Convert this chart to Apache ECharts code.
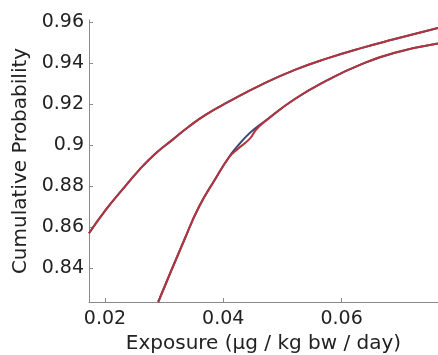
<!DOCTYPE html>
<html>
<head>
<meta charset="utf-8">
<script src="https://cdn.jsdelivr.net/npm/echarts@6/dist/echarts.min.js"></script>
<style>html,body{margin:0;padding:0;background:#fff}#c{width:438px;height:355px}</style>
</head>
<body>
<div id="c"></div>
<script>
const upperX = [0.0173, 0.0201, 0.0229, 0.0258, 0.0286, 0.0314, 0.0342, 0.0370, 0.0410, 0.0464, 0.0521, 0.0577, 0.0633, 0.0690, 0.0763];
const upperBlueY = [0.8571, 0.8684, 0.8782, 0.8880, 0.8961, 0.9026, 0.9091, 0.9148, 0.9213, 0.9294, 0.9367, 0.9424, 0.9473, 0.9517, 0.9571];
const upperRedY = [0.8571, 0.8684, 0.8782, 0.8880, 0.8961, 0.9026, 0.9091, 0.9148, 0.9213, 0.9294, 0.9367, 0.9424, 0.9473, 0.9517, 0.9571];

const lowerBlueX = [0.0290, 0.0334, 0.0359, 0.0387, 0.0410, 0.0423, 0.0445, 0.0470, 0.0521, 0.0577, 0.0633, 0.0690, 0.0763];
const lowerBlueY = [0.8236, 0.8538, 0.8700, 0.8838, 0.8944, 0.8992, 0.9060, 0.9117, 0.9225, 0.9318, 0.9394, 0.9450, 0.9495];
const lowerRedX = [0.0290, 0.0334, 0.0359, 0.0387, 0.0410, 0.0423, 0.0445, 0.0455, 0.0470, 0.0521, 0.0577, 0.0633, 0.0690, 0.0763];
const lowerRedY = [0.8236, 0.8538, 0.8700, 0.8838, 0.8942, 0.8978, 0.9032, 0.9074, 0.9114, 0.9225, 0.9318, 0.9394, 0.9450, 0.9495];

const xTicks = [0.02, 0.04, 0.06];
const yTicks = [0.84, 0.86, 0.88, 0.9, 0.92, 0.94, 0.96];

const zip = (xs, ys) => xs.map((x, i) => [x, ys[i]]);
const FONT = 'DejaVu Sans';
const BLUE = '#3a4577';
const RED = '#b3343d';

const chart = echarts.init(document.getElementById('c'), null, {renderer: 'canvas'});
const lineSeries = (data, color, z) => ({
  type: 'line', data: data, smooth: 0.5, showSymbol: false,
  lineStyle: {color: color, width: 2}, z: z
});
chart.setOption({
  animation: false,
  grid: {left: 89, right: 0, top: 20, bottom: 53, containLabel: false, outerBoundsMode: 'none'},
  xAxis: {
    type: 'value', min: 0.0173, max: 0.0763,
    name: 'Exposure (µg / kg bw / day)', nameLocation: 'middle', nameGap: 24,
    nameTextStyle: {fontFamily: FONT, fontSize: 20, color: '#222'},
    axisLine: {show: true, lineStyle: {color: '#8a8a8a', width: 1}},
    axisTick: {show: true, inside: true, length: 4, lineStyle: {color: '#8a8a8a'}, customValues: xTicks},
    axisLabel: {fontFamily: FONT, fontSize: 19, color: '#222', margin: 8, customValues: xTicks},
    splitLine: {show: false}
  },
  yAxis: {
    type: 'value', min: 0.8236, max: 0.961,
    name: 'Cumulative Probability', nameLocation: 'middle', nameGap: 54,
    nameTextStyle: {fontFamily: FONT, fontSize: 20, color: '#222'},
    axisLine: {show: true, lineStyle: {color: '#8a8a8a', width: 1}},
    axisTick: {show: true, inside: true, length: 4, lineStyle: {color: '#8a8a8a'}, customValues: yTicks},
    axisLabel: {fontFamily: FONT, fontSize: 19, color: '#222', margin: 5, customValues: yTicks},
    splitLine: {show: false}
  },
  series: [
    lineSeries(zip(upperX, upperBlueY), BLUE, 2),
    lineSeries(zip(lowerBlueX, lowerBlueY), BLUE, 2),
    lineSeries(zip(upperX, upperRedY), RED, 3),
    lineSeries(zip(lowerRedX, lowerRedY), RED, 3)
  ]
});
</script>
</body>
</html>
